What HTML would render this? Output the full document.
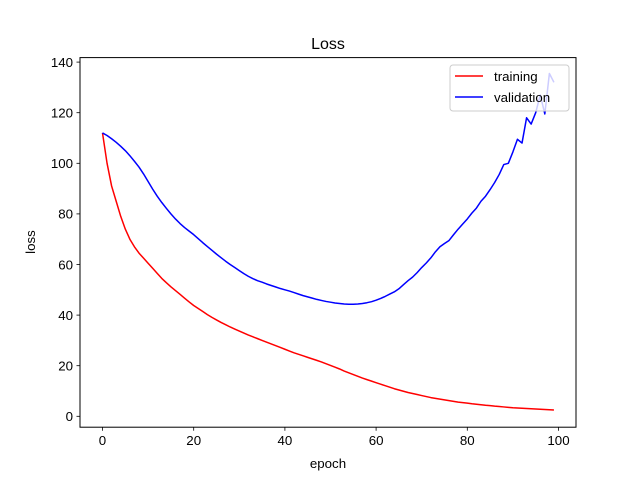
<!DOCTYPE html>
<html><head><meta charset="utf-8"><style>
body{margin:0;background:#fff;}
svg{display:block;font-family:"Liberation Sans","DejaVu Sans",sans-serif;}
</style></head><body>
<svg id="chart" width="640" height="480" xmlns="http://www.w3.org/2000/svg">
<rect x="0" y="0" width="640" height="480" fill="#fff"/>
<text x="328" y="49" font-size="16" text-anchor="middle">Loss</text>
<g id="xticks"></g><g id="yticks"></g>
<g id="series"></g>
<rect x="80" y="57.6" width="496" height="369.6" fill="none" stroke="#000" stroke-width="1"/>
<text x="328" y="468" font-size="13.3" text-anchor="middle">epoch</text>
<text x="35" y="242" font-size="13.3" text-anchor="middle" transform="rotate(-90 35 242)">loss</text>
<g>
<rect x="450" y="65" width="119" height="46" rx="3" fill="#fff" fill-opacity="0.8" stroke="#ccc"/>
<line x1="455" y1="76" x2="483" y2="76" stroke="red" stroke-width="1.5"/>
<text x="494" y="81" font-size="13.3">training</text>
<line x1="455" y1="97" x2="483" y2="97" stroke="blue" stroke-width="1.5"/>
<text x="494" y="102" font-size="13.3">validation</text>
</g>
</svg>
<script>
const training=[112,100,91,85,79,74,70,67,64.5,62.5,
60.5,58.5,56.5,54.5,52.8,51.2,49.7,48.2,46.7,45.2,
43.8,42.6,41.4,40.2,39.1,38.1,37.1,36.2,35.3,34.5,
33.7,32.9,32.1,31.4,30.7,30,29.3,28.6,27.9,27.2,
26.5,25.8,25.1,24.5,23.9,23.3,22.7,22.1,21.5,20.8,
20.1,19.4,18.7,17.9,17.2,16.5,15.8,15.1,14.5,13.9,
13.3,12.7,12.1,11.5,10.9,10.4,9.9,9.4,9,8.6,
8.2,7.8,7.4,7.1,6.8,6.5,6.2,5.9,5.6,5.4,
5.2,4.95,4.75,4.55,4.35,4.2,4,3.85,3.7,3.55,
3.4,3.3,3.2,3.1,3,2.9,2.8,2.7,2.6,2.5];
const validation=[112,111,109.7,108.3,106.7,105,103,100.8,98.5,95.8,
92.8,89.8,87,84.5,82.2,80,78,76.2,74.6,73.2,
71.8,70.2,68.6,67.1,65.6,64.1,62.7,61.3,60,58.8,
57.6,56.4,55.3,54.4,53.6,53,52.3,51.7,51.1,50.5,
50,49.5,48.9,48.3,47.7,47.2,46.7,46.2,45.8,45.4,
45.1,44.8,44.6,44.4,44.3,44.3,44.4,44.6,44.9,45.3,
45.9,46.6,47.4,48.3,49.2,50.4,52,53.6,55,56.8,
58.8,60.6,62.6,65,67,68.3,69.5,71.8,74,76,
78,80.3,82.3,85,87,89.6,92.4,95.6,99.5,100,
104.5,109.5,108,118,115.5,120,127,119.5,135.5,132];
const xTickLabels=[0,20,40,60,80,100];
const yTickLabels=[0,20,40,60,80,100,120,140];
const NS="http://www.w3.org/2000/svg";
function xs(e){return 102.5+e*4.56;}
function ys(v){return 416.3-v*2.53;}
function mk(tag,attrs,parent){const el=document.createElementNS(NS,tag);for(const k in attrs)el.setAttribute(k,attrs[k]);parent.appendChild(el);return el;}
const xg=document.getElementById('xticks'),yg=document.getElementById('yticks'),sg=document.getElementById('series');
xTickLabels.forEach(t=>{const x=xs(t);
const l=mk('line',{x1:x,x2:x,y1:427.2,y2:430.7,stroke:'#000','stroke-width':0.8},xg);


const tx=mk('text',{x:x,y:445,'font-size':13.3,'text-anchor':'middle'},xg);tx.textContent=t;

});
yTickLabels.forEach(t=>{const y=ys(t);
const l=mk('line',{x1:76.5,x2:80,y1:y,y2:y,stroke:'#000','stroke-width':0.8},yg);


const tx=mk('text',{x:73,y:y+4.8,'font-size':13.3,'text-anchor':'end'},yg);tx.textContent=t;

});
function line(arr,color,name){const p=mk('polyline',{points:arr.map((v,i)=>xs(i)+','+ys(v)).join(' '),fill:'none',stroke:color,'stroke-width':1.5,'stroke-linejoin':'round'},sg);

}
line(training,'red','training-line');
line(validation,'blue','validation-line');
</script>
</body></html>
